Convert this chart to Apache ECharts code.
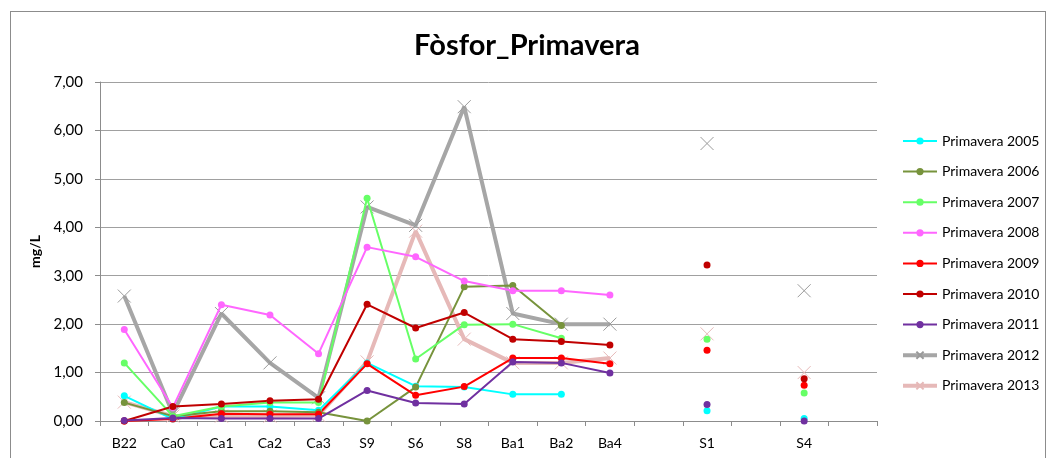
<!DOCTYPE html>
<html>
<head>
<meta charset="utf-8">
<script src="https://cdn.jsdelivr.net/npm/echarts@6/dist/echarts.min.js"></script>
<style>
  html, body { margin: 0; padding: 0; background: #fff; }
  #frame { position: absolute; left: 10px; top: 11px; width: 1036px; height: 470px; border: 1px solid #8c8c8c; box-sizing: border-box; }
  #chart { position: absolute; left: 0; top: 0; width: 1054px; height: 458px; }
</style>
</head>
<body>
<div id="frame"></div>
<div id="chart"></div>
<script>
// Sampling points (blank slots separate the isolated stations S1 and S4)
const categories = ['B22', 'Ca0', 'Ca1', 'Ca2', 'Ca3', 'S9', 'S6', 'S8', 'Ba1', 'Ba2', 'Ba4', '', 'S1', '', 'S4', ''];

// Phosphorus (mg/L), spring campaigns
const p2005 = [0.52, 0.04, 0.30, 0.30, 0.22, 1.20, 0.72, 0.70, 0.55, 0.55, null, null, 0.21, null, 0.05, null];
const p2006 = [0.38, 0.10, 0.20, 0.20, 0.18, 0.00, 0.70, 2.77, 2.80, 1.97, null, null, null, null, null, null];
const p2007 = [1.20, 0.10, 0.30, 0.38, 0.38, 4.60, 1.28, 1.99, 2.00, 1.71, null, null, 1.69, null, 0.58, null];
const p2008 = [1.89, 0.28, 2.40, 2.19, 1.39, 3.59, 3.39, 2.89, 2.69, 2.69, 2.60, null, null, null, null, null];
const p2009 = [0.00, 0.04, 0.15, 0.14, 0.14, 1.18, 0.53, 0.71, 1.30, 1.30, 1.18, null, 1.46, null, 0.74, null];
const p2010 = [0.00, 0.30, 0.35, 0.42, 0.45, 2.41, 1.92, 2.24, 1.69, 1.64, 1.57, null, 3.22, null, 0.87, null];
const p2011 = [0.01, 0.06, 0.05, 0.05, 0.05, 0.63, 0.37, 0.35, 1.22, 1.20, 0.99, null, 0.34, null, 0.00, null];
const p2012 = [2.58, 0.15, 2.22, 1.20, 0.48, 4.42, 4.04, 6.49, 2.22, 2.00, 2.00, null, 5.73, null, 2.69, null];
const p2013 = [0.39, 0.10, 0.10, 0.10, 0.12, 1.22, 3.92, 1.69, 1.20, 1.20, 1.30, null, 1.80, null, 1.00, null];

const seriesNames = ['Primavera 2005', 'Primavera 2006', 'Primavera 2007', 'Primavera 2008', 'Primavera 2009',
                     'Primavera 2010', 'Primavera 2011', 'Primavera 2012', 'Primavera 2013'];
const seriesData = [p2005, p2006, p2007, p2008, p2009, p2010, p2011, p2012, p2013];
const colors = ['#00FFFF', '#77933C', '#66FF66', '#FF66FF', '#FF0000', '#C00000', '#7030A0', '#A6A6A6', '#E6B9B8'];

const FONT = 'Lato, "Open Sans", sans-serif';
const CROSS = 'path://M0,0L10,10M10,0L0,10';
const isCross = i => i >= 7;

const series = seriesData.map((d, i) => ({
  name: seriesNames[i],
  type: 'line',
  data: d,
  connectNulls: false,
  symbol: isCross(i) ? CROSS : 'circle',
  symbolSize: isCross(i) ? 13 : 7,
  showAllSymbol: true,
  lineStyle: { color: colors[i], width: isCross(i) ? 4 : 2 },
  itemStyle: isCross(i)
    ? { color: 'none', borderColor: i === 7 ? '#9a9a9a' : '#E6B9B8', borderWidth: 1 }
    : { color: colors[i], borderWidth: 0 },
  emphasis: { disabled: true },
  z: isCross(i) ? 1 : 2,
  animation: false
}));

// Legend entries: thick strokes for the cross-marker series
const legendData = seriesNames.map((n, i) => ({
  name: n,
  lineStyle: { width: isCross(i) ? 4 : 2 }
}));

const chart = echarts.init(document.getElementById('chart'), null, { renderer: 'canvas' });
chart.setOption({
  animation: false,
  color: colors,
  title: {
    text: 'Fòsfor_Primavera',
    left: 'center',
    top: 26,
    textStyle: { fontFamily: FONT, fontWeight: 'bold', fontSize: 29, color: '#000' }
  },
  legend: {
    orient: 'vertical',
    left: 896,
    top: 129,
    itemWidth: 34,
    itemHeight: 9,
    itemGap: 16.6,
    textStyle: { fontFamily: FONT, fontSize: 14, color: '#000' },
    data: legendData
  },
  grid: { left: 100, right: 177, top: 82, bottom: 37, containLabel: false },
  xAxis: {
    type: 'category',
    data: categories,
    boundaryGap: true,
    axisLine: { lineStyle: { color: '#8c8c8c', width: 1 } },
    axisTick: { show: true, alignWithLabel: false, interval: 0, length: 5, lineStyle: { color: '#8c8c8c' } },
    axisLabel: { interval: 0, fontFamily: FONT, fontSize: 14, color: '#000', margin: 15 },
    splitLine: { show: false }
  },
  yAxis: {
    type: 'value',
    min: 0,
    max: 7,
    interval: 1,
    name: 'mg/L',
    nameLocation: 'middle',
    nameGap: 52,
    nameRotate: 90,
    nameTextStyle: { fontFamily: FONT, fontWeight: 'bold', fontSize: 14, color: '#000' },
    axisLine: { show: true, lineStyle: { color: '#8c8c8c' } },
    axisTick: { show: true, length: 5, lineStyle: { color: '#8c8c8c' } },
    axisLabel: {
      fontFamily: FONT, fontSize: 15, color: '#000', margin: 17,
      formatter: v => v.toFixed(2).replace('.', ',')
    },
    splitLine: { show: true, lineStyle: { color: '#a0a0a0', width: 1 } }
  },
  series: series
});
</script>
</body>
</html>
